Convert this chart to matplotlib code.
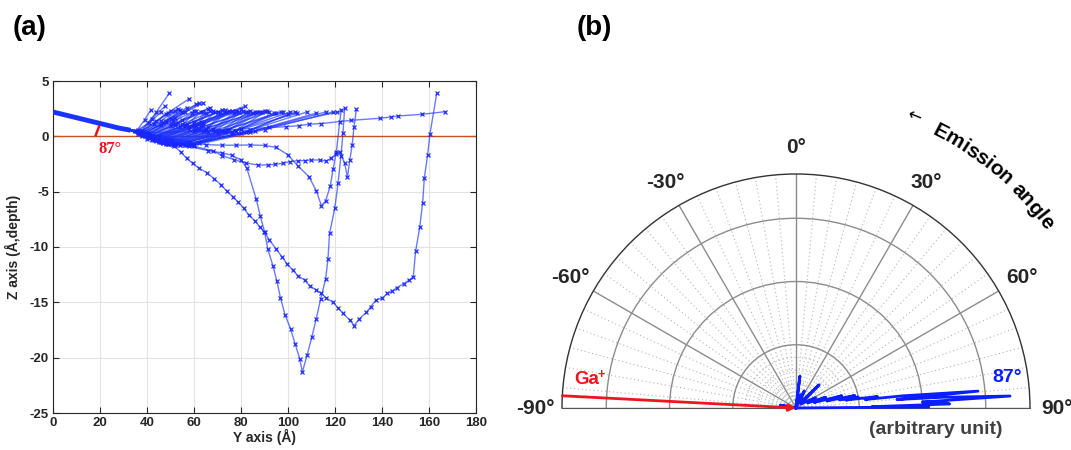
import numpy as np
import matplotlib
matplotlib.use("Agg")
import matplotlib.pyplot as plt
from matplotlib.ticker import FixedLocator
from matplotlib.textpath import TextToPath
from matplotlib.font_manager import FontProperties

plt.rcParams['font.family'] = ['Liberation Sans', 'DejaVu Sans']
plt.rcParams['axes.unicode_minus'] = False

# ---- panel (a): ion trajectories, Y axis / Z axis in Angstrom ----
# incoming Ga+ beam
inc_y = [0, 28, 33]
inc_z = [2.2, 0.75, 0.55]

# fan of trajectories leaving through the surface: first point, middle point, exit point
fan_y0 = [36, 37, 38, 38, 37, 38, 39, 39, 40, 40, 41, 41, 42, 42, 43, 43, 44, 44,
          45, 45, 46, 46, 47, 47, 48, 49, 50, 51, 52, 54, 56, 58, 60, 62, 45, 41]
fan_z0 = [0.6, 0.5, 0.5, 0.4, 0.4, 0.3, 0.3, 0.2, 0.2, 0.1, 0.1, 0.0, 0.0, -0.1, -0.1, -0.2, -0.2, -0.3,
          -0.3, -0.4, -0.4, -0.5, -0.5, -0.6, -0.6, -0.7, -0.7, -0.8, -0.7, -0.8, -0.8, -0.7, -0.8, -0.6, 0.0, 0.3]
fan_ym = [39, 42, 44, 48, 44, 46, 47, 48, 50, 51, 52, 53, 55, 56, 57, 58, 60, 61,
          62, 63, 64, 65, 66, 68, 70, 72, 74, 76, 78, 80, 84, 86, 90, 92, 63, 52]
fan_zm = [1.5, 1.6, 2.2, 2.0, 1.4, 1.4, 1.2, 1.4, 1.2, 1.5, 1.1, 1.2, 1.1, 1.0, 1.1, 0.9, 1.0, 0.9,
          1.1, 0.8, 0.9, 0.7, 0.8, 0.7, 0.6, 0.5, 0.6, 0.4, 0.5, 0.3, 0.4, 0.5, 0.6, 0.8, 1.3, 1.7]
fan_y1 = [41.7, 47.6, 49.5, 58, 50, 53, 55, 57, 60, 62, 64, 66, 68, 70, 72, 74, 76, 78,
          80, 82, 84, 86, 88, 90, 92, 95, 98, 101, 104, 108, 112, 116, 119, 121, 81.5, 63.7]
fan_z1 = [2.4, 2.7, 3.9, 3.4, 2.3, 2.5, 2.2, 2.6, 2.3, 3.0, 2.2, 2.5, 2.3, 2.2, 2.4, 2.2, 2.3, 2.2,
          2.5, 2.2, 2.3, 2.2, 2.2, 2.3, 2.2, 2.1, 2.2, 2.2, 2.1, 2.2, 2.1, 2.2, 2.2, 2.2, 2.7, 3.0]

# second group of exiting trajectories (fills the dense fan)
fan2_y0 = [35, 36, 37, 38, 39, 40, 41, 42, 43, 44, 45, 46, 47, 48, 49, 50, 51, 52, 53, 54,
           55, 56, 57, 58, 59, 60, 36, 38, 40, 42]
fan2_z0 = [0.45, 0.35, 0.25, 0.15, 0.05, -0.05, -0.15, -0.25, -0.35, -0.45, -0.5, -0.55, -0.6, -0.65, -0.7,
           -0.6, -0.65, -0.75, -0.7, -0.75, -0.7, -0.8, -0.75, -0.7, -0.8, -0.75, 0.2, 0.0, -0.2, -0.3]
fan2_ym = [41, 43, 46, 48, 50, 52, 54, 56, 58, 60, 61, 62, 64, 65, 66, 68, 69, 70, 72, 73,
           75, 76, 78, 80, 82, 84, 50, 55, 60, 64]
fan2_zm = [1.2, 1.1, 1.0, 1.3, 0.9, 1.0, 0.8, 0.9, 0.7, 0.8, 0.6, 0.7, 0.5, 0.6, 0.4, 0.6, 0.5, 0.3, 0.5, 0.4,
           0.6, 0.3, 0.5, 0.7, 0.4, 0.6, 1.6, 1.5, 1.3, 1.2]
fan2_y1 = [46, 49, 52, 54, 56, 59, 61, 63, 65, 67, 69, 71, 73, 75, 77, 79, 81, 83, 85, 87,
           89, 91, 94, 97, 100, 103, 61, 67, 73, 78]
fan2_z1 = [2.2, 2.1, 2.3, 2.4, 2.2, 2.1, 2.3, 2.2, 2.1, 2.3, 2.2, 2.1, 2.2, 2.3, 2.1, 2.2, 2.3, 2.2, 2.1, 2.2,
           2.2, 2.3, 2.1, 2.2, 2.0, 2.2, 2.9, 2.6, 2.4, 2.3]

# long shallow trajectory exiting at Y~167
long_y = [40, 60, 80, 99, 104.5, 109, 114, 127, 139, 144, 147, 157, 167]
long_z = [0.3, 0.45, 0.65, 0.87, 0.96, 1.1, 1.15, 1.45, 1.63, 1.75, 1.84, 1.99, 2.23]

# deep trajectory reaching -21.3
deep_a_y = [36, 48, 58, 66, 72, 76, 80.1, 82.5, 86.5, 88.2, 90, 91.4, 93.6, 95.3, 96.8, 98.7, 101.1,
            103.1, 105, 106.1, 108.1, 110.2, 112, 113.9, 116, 117, 117.7, 119.9, 121.3, 122.5, 123.4, 124.1]
deep_a_z = [0.4, -0.3, -0.9, -1.3, -1.5, -1.7, -2.14, -2.89, -5.69, -7.2, -8.6, -10.2, -11.7, -13.1, -14.6, -16.1, -17.4,
            -18.8, -20.1, -21.3, -19.8, -18.1, -16.5, -14.7, -12.9, -11.1, -8.76, -6.5, -4.24, -1.8, 0.3, 2.53]

# diagonal trajectory reaching -17 then exiting at Y~163
deep_b_y = [38, 45, 51.6, 54.5, 56.9, 59.4, 62, 65.4, 68.7, 71.5, 74.1, 76.5, 78.6, 81.1, 83.3, 85.8, 87.9,
            89.7, 92.1, 95, 97.5, 99.5, 102.1, 104.2, 107.1, 109.2, 112.1, 114.2, 116.3, 119.2, 121.3, 123.4,
            126.3, 128.1, 130.3, 133.4, 135.2, 137.4, 140.2, 142.2, 144.3, 146.2, 149.3, 151.5, 153.3, 154.3,
            156.1, 157.3, 158, 159.4, 160.4, 163.3]
deep_b_z = [0.3, -0.3, -0.87, -1.45, -1.99, -2.44, -2.86, -3.28, -3.85, -4.39, -4.97, -5.45, -5.9, -6.5, -7.1, -7.62, -8.16,
            -8.6, -9.36, -10.2, -10.9, -11.5, -12.1, -12.6, -13.0, -13.5, -13.9, -14.2, -14.6, -15.0, -15.5, -16.0,
            -16.6, -17.1, -16.5, -15.9, -15.4, -14.8, -14.6, -14.2, -14.0, -13.7, -13.3, -13.0, -12.7, -10.4,
            -8.16, -5.99, -3.79, -1.68, 0.21, 3.89]

# shallow trajectory with minimum -6.3
deep_c_y = [38, 48, 58, 65, 72, 78, 84, 90, 95, 100, 104.2, 108.9, 112.1, 114.2, 116, 118, 119.2, 120.6, 122, 122.7]
deep_c_z = [0.3, -0.2, -0.55, -0.75, -0.8, -0.8, -0.78, -0.82, -1.0, -1.68, -2.68, -3.64, -4.94, -6.26, -5.84,
            -4.49, -2.95, -1.39, 1.32, 2.4]

# trajectory running at about -2.3 with a dip to -3.7
deep_d_y = [38, 50, 60, 68, 72, 77, 82, 87.2, 91.4, 94.3, 97.8, 100.7, 104.2, 107.1, 109.9, 113.5, 116.3,
            118.2, 120.3, 122, 124.1, 125.3, 126.3, 127.3, 128.1, 129.1]
deep_d_z = [0.3, -0.3, -0.9, -1.3, -1.75, -2.1, -2.4, -2.59, -2.59, -2.53, -2.44, -2.29, -2.2, -2.2, -2.14, -2.14,
            -2.23, -1.99, -1.62, -1.39, -2.44, -3.7, -2.14, -0.78, 0.87, 2.44]

# ---- panel (b): emission angle distribution (degrees, arbitrary unit) ----
em_theta = [-84, -80, -76, -10, 2, 7, 10, 18, 22, 26, 30, 40, 45, 50, 58, 62, 66, 70, 73, 75, 77, 78,
            79.5, 80, 81, 82, 83, 83.5, 84.7, 85.2, 85.8, 86.8, 87.3, 87.8, 88.5, 89, 89.5, 90]
em_r = [0, 0.25, 0, 0, 0.05, 0.51, 0.05, 0.22, 0.05, 0.3, 0.1, 0.15, 0.52, 0.1, 0.2, 0.35, 0.2, 0.5, 0.3, 0.75,
        0.5, 0.95, 0.7, 1.0, 0.8, 1.3, 1.1, 1.7, 2.89, 1.6, 2.3, 3.39, 2.0, 2.35, 2.43, 1.2, 2.1, 0]
ga_theta = -87
ga_r = 3.7
theta_ticks = [-90, -60, -30, 0, 30, 60, 90]

W, H = 1071, 450
fig = plt.figure(figsize=(W / 100, H / 100), dpi=100)

# ---------------- (a) ----------------
ax = fig.add_axes([53 / W, 1 - 413 / H, 423 / W, 332 / H])
ax.set_xlim(0, 180)
ax.set_ylim(-25, 5)
ax.grid(True, color='#e3e3e3', lw=0.8)
ax.set_axisbelow(True)
ax.axhline(0, color='#c8501e', lw=1.0, zorder=1)

line_kw = dict(color=(0.1, 0.2, 1.0, 0.65), lw=1.0, zorder=2)
mark_kw = dict(ls='none', marker='x', ms=3.3, mew=0.9, color=(0.1, 0.15, 1.0, 0.95), zorder=3)

trajs = []
for fy0, fz0, fym, fzm, fy1, fz1 in [(fan_y0, fan_z0, fan_ym, fan_zm, fan_y1, fan_z1),
                                     (fan2_y0, fan2_z0, fan2_ym, fan2_zm, fan2_y1, fan2_z1)]:
    for i in range(len(fy0)):
        trajs.append(([inc_y[-1], fy0[i], fym[i], fy1[i]],
                      [inc_z[-1], fz0[i], fzm[i], fz1[i]]))
for ty, tz in [(long_y, long_z), (deep_a_y, deep_a_z), (deep_b_y, deep_b_z),
               (deep_c_y, deep_c_z), (deep_d_y, deep_d_z)]:
    trajs.append(([inc_y[-1]] + ty, [inc_z[-1]] + tz))
for ty, tz in trajs:
    ax.plot(ty, tz, **line_kw)
    ax.plot(ty[1:], tz[1:], **mark_kw)
ax.plot(inc_y, inc_z, color=(0.1, 0.2, 1.0), lw=3.5, solid_capstyle='butt', zorder=4)

# angle mark
ax.plot([18.2, 19.6], [0.1, 0.9], color='#e8141e', lw=1.8, zorder=5)
ax.text(19.5, -1.1, '87°', color='#e8141e', fontsize=12, fontweight='bold',
        family=['Liberation Serif', 'DejaVu Serif'], va='center', ha='left')

ax.set_xticks(range(0, 181, 20))
ax.set_yticks(range(-25, 6, 5))
ax.tick_params(direction='in', length=4, width=0.8, top=True, right=True,
               labelsize=9.5, colors='#262626', pad=3)
for lab in ax.get_xticklabels() + ax.get_yticklabels():
    lab.set_fontweight('bold')
for sp in ax.spines.values():
    sp.set_color('#262626')
    sp.set_linewidth(0.8)
ax.set_xlabel('Y axis (Å)', fontsize=10, fontweight='bold', color='#262626', labelpad=0)
ax.set_ylabel('Z axis (Å,depth)', fontsize=10, fontweight='bold', color='#262626', labelpad=6)

# ---------------- (b) ----------------
# square box centred on the half disc (centre 796,408 px, radius 234 px)
pax = fig.add_axes([562 / W, 1 - 525 / H, 468 / W, 468 / H], projection='polar')
pax.set_theta_zero_location('N')
pax.set_theta_direction(-1)
pax.set_thetamin(-90)
pax.set_thetamax(90)
pax.set_rlim(0, 3.7)
pax.set_rticks([1, 2, 3])
pax.set_yticklabels([])
pax.yaxis.set_minor_locator(FixedLocator([0.2, 0.4, 0.6, 0.8]))
pax.set_xticks(np.radians(theta_ticks))
pax.set_xticklabels([])
pax.xaxis.set_minor_locator(FixedLocator(np.radians(np.arange(-85, 90, 5))))
pax.grid(True, which='major', color='#8c8c8c', lw=1.0, ls='-')
pax.grid(True, which='minor', color='#b4b4b4', lw=0.8, ls=(0, (1, 2.5)))
pax.tick_params(which='both', length=0)
pax.spines['polar'].set_color('#333333')
pax.spines['polar'].set_linewidth(1.0)
pax.spines['start'].set_color('#555555')
pax.spines['end'].set_color('#555555')
pax.set_facecolor('white')

for t in theta_ticks:
    pax.text(np.radians(t), 4.12, f'{t}°', ha='center', va='center', fontsize=15,
             fontweight='bold', color='#262626', clip_on=False)

pax.plot(np.radians(em_theta), em_r, color='#0a1eff', lw=2.0, zorder=5, clip_on=False)
pax.annotate('', xy=(0, 0), xytext=(np.radians(ga_theta), ga_r),
             arrowprops=dict(arrowstyle='-|>', color='#f0141e', lw=2.0,
                             mutation_scale=10, shrinkA=0, shrinkB=0),
             zorder=6, annotation_clip=False)

# curved "Emission angle" label
fp = FontProperties(family='Liberation Sans', weight='bold', size=15)
ttp = TextToPath()
txt = 'Emission angle'
r_px = 311.0
r_txt = 3.7 * r_px / 234.0


def text_w(s):
    w_ref = ttp.get_text_width_height_descent('x', fp, ismath=False)[0]
    return (ttp.get_text_width_height_descent(s + 'x', fp, ismath=False)[0] - w_ref) * 100 / 72


widths = [text_w(txt[:i]) for i in range(len(txt) + 1)]
centers = [(widths[i] + widths[i + 1]) / 2 for i in range(len(txt))]
mid = (centers[0] + centers[-1]) / 2
for ch, c in zip(txt, centers):
    ang = 40.5 + np.degrees((c - mid) / r_px)
    pax.text(np.radians(ang), r_txt, ch, fontproperties=fp, rotation=-ang,
             rotation_mode='anchor', ha='center', va='center', clip_on=False)
pax.text(np.radians(22), r_txt + 0.05, '←', fontsize=12, rotation=-22, family='DejaVu Sans',
         rotation_mode='anchor', ha='center', va='center', clip_on=False)

fig.text(587 / W, 1 - 380 / H, 'Ga', color='#f0141e', fontsize=13.5, fontweight='bold',
         ha='center', va='center')
fig.text(598 / W, 1 - 375 / H, '+', color='#f0141e', fontsize=9, fontweight='bold',
         ha='left', va='center')
fig.text(1007 / W, 1 - 377 / H, '87°', color='#0a1eff', fontsize=14, fontweight='bold',
         ha='center', va='center')
fig.text(936 / W, 1 - 430 / H, '(arbitrary unit)', color='#404040', fontsize=14, fontweight='bold',
         ha='center', va='center')

fig.text(30 / W, 1 - 28 / H, '(a)', fontsize=20, fontweight='bold', ha='center', va='center')
fig.text(594 / W, 1 - 28 / H, '(b)', fontsize=20, fontweight='bold', ha='center', va='center')

fig.savefig('out.png', dpi=100)
